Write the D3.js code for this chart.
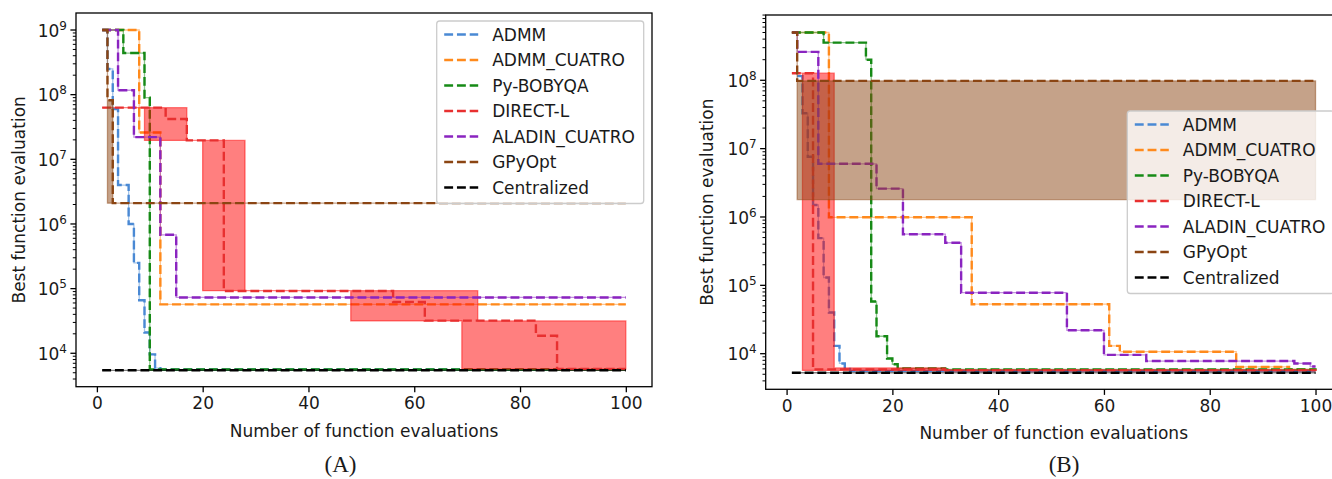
<!DOCTYPE html>
<html>
<head>
<meta charset="utf-8">
<script src="https://cdn.jsdelivr.net/npm/d3@7"></script>
<style>
  body { margin: 0; background: #fff; }
  svg { display: block; }
  text { font-family: "DejaVu Sans", sans-serif; fill: #1a1a1a; }
</style>
</head>
<body>
<svg id="chart" width="1332" height="479"></svg>
<script>
// legend order
const methods = ["ADMM", "ADMM_CUATRO", "Py-BOBYQA", "DIRECT-L", "ALADIN_CUATRO", "GPyOpt", "Centralized"];
const colors = ["#4a89d4", "#ff8a1c", "#168a16", "#e83030", "#8a24c0", "#8b4513", "#000000"];
const fillColors = ["#4a89d4", "#ff8a1c", "#168a16", "#ff0000", "#8a24c0", "#8b4513", "#000000"];
const xTicks = [0, 20, 40, 60, 80, 100];

// Panel A, step series [evaluation, best value]
const aADMM = [[1, 1e9], [2, 2.5e8], [3, 6e7], [4, 4e6], [6, 1e6], [7, 2.5e5], [8, 6.6e4], [9, 2.1e4], [10, 9.6e3], [11, 5.9e3], [12, 5.6e3], [100, 5.6e3]];
const aADMMC = [[1, 1e9], [8, 2.6e7], [12, 5.7e4], [100, 5.7e4]];
const aBOBYQA = [[1, 1e9], [5, 4.4e8], [9, 9e7], [10, 5.6e3], [100, 5.6e3]];
const aDIRECT = [[1, 6.3e7], [13, 4.2e7], [17, 1.96e7], [24, 9.2e4], [56, 6.2e4], [62, 3.2e4], [83, 1.87e4], [87, 5.7e3], [100, 5.7e3]];
const aALADIN = [[1, 1e9], [4, 1.17e8], [7, 2.2e7], [12, 6.8e5], [15, 7.3e4], [100, 7.3e4]];
const aGPyOpt = [[1, 1e9], [2, 8.2e7], [3, 2.1e6], [100, 2.1e6]];
const aCentral = [[1, 5.45e3], [100, 5.45e3]];
// Panel A, min / max bands
const aDirectLo = [[1, 6.3e7], [9, 1.96e7], [20, 9.3e4], [48, 3.16e4], [69, 5.7e3], [100, 5.7e3]];
const aDirectHi = [[1, 6.3e7], [17, 1.96e7], [28, 9.3e4], [72, 3.16e4], [100, 3.16e4]];
const aGPyLo = [[1, 1e9], [2, 2.1e6], [100, 2.1e6]];
const aGPyHi = [[1, 1e9], [2, 8.2e7], [3, 2.1e6], [100, 2.1e6]];

// Panel B
const bADMM = [[2, 1.15e8], [3, 3.3e7], [4, 7.6e6], [5, 1.5e6], [6, 4.9e5], [7, 1.3e5], [8, 4e4], [9, 1.3e4], [10, 7.2e3], [11, 6e3], [12, 5.6e3], [100, 5.6e3]];
const bADMMC = [[1, 5e8], [8, 9.9e5], [35, 5.3e4], [61, 1.3e4], [63, 1.07e4], [85, 6.4e3], [95, 5.9e3], [100, 5.9e3]];
const bBOBYQA = [[1, 5e8], [7, 3.55e8], [15, 2e8], [16, 5.8e4], [17, 1.8e4], [19, 8.5e3], [20, 7e3], [21, 6.1e3], [30, 5.9e3], [100, 5.8e3]];
const bDIRECT = [[1, 1.27e8], [5, 5.9e3], [30, 5.7e3], [100, 5.6e3]];
const bALADIN = [[1, 5e8], [2, 2.6e8], [6, 6e6], [17, 2.6e6], [22, 5.6e5], [30, 4.2e5], [33, 7.8e4], [53, 2.2e4], [60, 9.6e3], [68, 7.8e3], [96, 7.2e3], [99, 6.5e3], [100, 6.5e3]];
const bGPyOpt = [[1, 5e8], [2, 9.8e7], [100, 9.8e7]];
const bCentral = [[1, 5.26e3], [100, 5.26e3]];
const bDirectLo = [[1, 1.27e8], [3, 5.7e3], [100, 5.7e3]];
const bDirectHi = [[1, 1.27e8], [9, 6.2e3], [30, 5.8e3], [100, 5.8e3]];
const bGPyLo = [[1, 5e8], [2, 1.8e6], [100, 1.8e6]];
const bGPyHi = [[1, 5e8], [2, 9.8e7], [100, 9.8e7]];

const svg = d3.select("#chart");
const fs = 17;

function stepAt(pts, x) {
  let v = pts[0][1];
  for (const p of pts) if (p[0] <= x) v = p[1];
  return v;
}

function drawPanel(p) {
  const w = 576;
  const x = d3.scaleLinear().domain([-3.95, 104.95]).range([p.left, p.left + w]);
  const y = d3.scaleLog().domain(p.yDomain).range([p.bottom, p.top]);

  svg.append("clipPath").attr("id", "clip" + p.id)
    .append("rect").attr("x", p.left).attr("y", p.top).attr("width", w).attr("height", p.bottom - p.top);
  const plot = svg.append("g").attr("clip-path", `url(#clip${p.id})`);

  const line = d3.line().curve(d3.curveStepAfter).x(d => x(d[0])).y(d => y(d[1]));

  methods.forEach((m, i) => {
    const med = p.series[i];
    const lo = p.lo[i] || med, hi = p.hi[i] || med;
    const xs = Array.from(new Set([...lo, ...hi].map(d => d[0]))).sort((a, b) => a - b);
    const area = d3.area().curve(d3.curveStepAfter)
      .x(d => x(d)).y0(d => y(stepAt(lo, d))).y1(d => y(stepAt(hi, d)));
    plot.append("path").datum(xs).attr("d", area)
      .attr("fill", fillColors[i]).attr("fill-opacity", 0.5)
      .attr("stroke", fillColors[i]).attr("stroke-opacity", 0.5).attr("stroke-width", 1.3);
    plot.append("path").datum(med).attr("d", line)
      .attr("fill", "none").attr("stroke", colors[i]).attr("stroke-width", 2.4)
      .attr("stroke-dasharray", "8.9,3.85");
  });

  // x axis
  const xa = svg.append("g").attr("transform", `translate(0,${p.bottom})`)
    .call(d3.axisBottom(x).tickValues(xTicks).tickSize(5.6).tickPadding(5))
    .call(g => g.select(".domain").remove());
  xa.selectAll("line").attr("stroke", "#000").attr("stroke-width", 1.3);
  xa.selectAll("text").attr("font-size", fs).attr("font-family", "DejaVu Sans").attr("fill", "#1a1a1a");

  // y axis: minor + major ticks
  const [lo10, hi10] = p.yDomain.map(Math.log10);
  const majors = d3.range(Math.ceil(lo10), Math.floor(hi10) + 1);
  const minors = [];
  for (let k = Math.floor(lo10); k <= Math.ceil(hi10); k++)
    for (let m = 2; m <= 9; m++) {
      const v = m * Math.pow(10, k);
      if (v >= p.yDomain[0] && v <= p.yDomain[1]) minors.push(v);
    }
  const ya = svg.append("g");
  ya.selectAll("line.minor").data(minors).join("line")
    .attr("x1", p.left - 3.2).attr("x2", p.left).attr("y1", d => y(d)).attr("y2", d => y(d))
    .attr("stroke", "#000").attr("stroke-width", 1);
  ya.selectAll("line.major").data(majors).join("line")
    .attr("x1", p.left - 5.6).attr("x2", p.left).attr("y1", d => y(Math.pow(10, d))).attr("y2", d => y(Math.pow(10, d)))
    .attr("stroke", "#000").attr("stroke-width", 1.3);
  const lab = ya.selectAll("text").data(majors).join("text")
    .attr("x", p.left - 9).attr("y", d => y(Math.pow(10, d)) + 6.8)
    .attr("text-anchor", "end").attr("font-size", fs);
  lab.append("tspan").text("10");
  lab.append("tspan").attr("font-size", 12).attr("dy", -7).text(d => d);

  // frame
  svg.append("rect").attr("x", p.left).attr("y", p.top).attr("width", w).attr("height", p.bottom - p.top)
    .attr("fill", "none").attr("stroke", "#000").attr("stroke-width", 1.3);

  // labels
  svg.append("text").attr("x", p.left + w / 2).attr("y", p.bottom + 50)
    .attr("text-anchor", "middle").attr("font-size", fs).text("Number of function evaluations");
  svg.append("text").attr("transform", `translate(${p.yLabelX},${(p.top + p.bottom) / 2}) rotate(-90)`)
    .attr("text-anchor", "middle").attr("dominant-baseline", "central").attr("font-size", fs)
    .text("Best function evaluation");
  svg.append("text").attr("x", p.captionX).attr("y", 472).attr("text-anchor", "middle")
    .style("font-family", "'Liberation Serif', serif")
    .attr("font-size", 23).text(p.caption);

  // legend
  const lg = svg.append("g");
  lg.append("rect").attr("x", p.legX).attr("y", p.legY).attr("width", 207).attr("height", 182.5)
    .attr("rx", 3).attr("fill", "#fff").attr("fill-opacity", 0.8)
    .attr("stroke", "#cccccc").attr("stroke-width", 1.3);
  methods.forEach((m, i) => {
    const cy = p.legY + 13.5 + i * 25.5;
    lg.append("line").attr("x1", p.legX + 7.5).attr("x2", p.legX + 41.5).attr("y1", cy).attr("y2", cy)
      .attr("stroke", colors[i]).attr("stroke-width", 2.4).attr("stroke-dasharray", "8.9,3.85");
    lg.append("text").attr("x", p.legX + 55.5).attr("y", cy).attr("dominant-baseline", "central")
      .attr("font-size", fs).text(m);
  });
}

drawPanel({
  id: "A", left: 76, top: 13, bottom: 386.7,
  yDomain: [Math.pow(10, 3.483), Math.pow(10, 9.263)],
  series: [aADMM, aADMMC, aBOBYQA, aDIRECT, aALADIN, aGPyOpt, aCentral],
  lo: [null, null, null, aDirectLo, null, aGPyLo, null],
  hi: [null, null, null, aDirectHi, null, aGPyHi, null],
  yLabelX: 19, captionX: 340.5, caption: "(A)",
  legX: 436.7, legY: 21
});

drawPanel({
  id: "B", left: 765.7, top: 15, bottom: 389.3,
  yDomain: [Math.pow(10, 3.479), Math.pow(10, 8.955)],
  series: [bADMM, bADMMC, bBOBYQA, bDIRECT, bALADIN, bGPyOpt, bCentral],
  lo: [null, null, null, bDirectLo, null, bGPyLo, null],
  hi: [null, null, null, bDirectHi, null, bGPyHi, null],
  yLabelX: 706.7, captionX: 1064, caption: "(B)",
  legX: 1127.3, legY: 111
});
</script>
</body>
</html>
